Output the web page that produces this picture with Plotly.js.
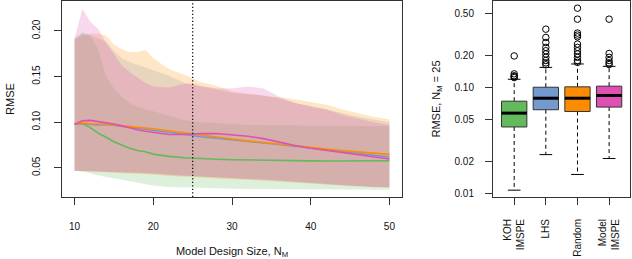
<!DOCTYPE html>
<html>
<head>
<meta charset="utf-8">
<script src="https://cdn.plot.ly/plotly-3.0.1.min.js"></script>
<style>html,body{margin:0;padding:0;background:#fff}#plot{width:632px;height:259px}</style>
</head>
<body>
<div id="plot"></div>
<script>
// ---------- Left panel data: RMSE vs model design size ----------
const designSizes = [10,11,12,13,14,15,16,17,18,19,20,22,24,25,26,28,30,32,34,36,38,40,42,44,46,48,50];

const kohMean   = [0.0978,0.0985,0.094,0.088,0.0835,0.0785,0.075,0.0715,0.069,0.0675,0.065,0.0625,0.061,0.0604,0.060,0.0594,0.0589,0.0585,0.0582,0.058,0.0578,0.0576,0.0575,0.0575,0.0576,0.0577,0.0578];
const kohUpper  = [0.1917,0.1986,0.195,0.180,0.150,0.137,0.128,0.121,0.117,0.114,0.112,0.107,0.102,0.101,0.100,0.099,0.098,0.097,0.097,0.0965,0.096,0.096,0.096,0.096,0.0958,0.0957,0.0956];
const kohLower  = [0.0468,0.046,0.044,0.0415,0.040,0.0385,0.037,0.0355,0.034,0.032,0.0305,0.029,0.028,0.0278,0.0276,0.0273,0.027,0.0268,0.0266,0.0265,0.0265,0.0264,0.0263,0.0262,0.0261,0.026,0.026];

const lhsMean   = [0.0978,0.0985,0.0975,0.097,0.0975,0.0965,0.0955,0.0945,0.0935,0.0925,0.0915,0.089,0.0865,0.0852,0.084,0.0825,0.081,0.079,0.0772,0.0755,0.0735,0.0715,0.0697,0.068,0.066,0.064,0.0618];
const lhsUpper  = [0.191,0.197,0.195,0.192,0.188,0.178,0.170,0.166,0.163,0.160,0.157,0.151,0.143,0.141,0.139,0.136,0.132,0.131,0.129,0.126,0.121,0.118,0.114,0.110,0.106,0.103,0.100];
const lhsLower  = [0.0468,0.0465,0.046,0.0458,0.0455,0.0452,0.0448,0.0445,0.0443,0.044,0.0437,0.042,0.0412,0.0408,0.0402,0.0392,0.0383,0.0376,0.037,0.0362,0.0348,0.0335,0.0322,0.031,0.0298,0.029,0.0285];

const randMean  = [0.0978,0.0992,0.098,0.098,0.098,0.097,0.096,0.095,0.094,0.0935,0.0928,0.0905,0.088,0.087,0.0855,0.0835,0.0815,0.0795,0.0777,0.076,0.0738,0.072,0.0705,0.069,0.0675,0.066,0.0647];
const randUpper = [0.191,0.195,0.197,0.197,0.195,0.185,0.180,0.177,0.177,0.179,0.170,0.158,0.152,0.148,0.144,0.140,0.134,0.131,0.129,0.127,0.125,0.122,0.119,0.114,0.110,0.106,0.103];
const randLower = [0.0468,0.0462,0.0455,0.045,0.0445,0.044,0.0438,0.0435,0.043,0.0427,0.0423,0.041,0.040,0.0395,0.039,0.0383,0.0375,0.0368,0.036,0.0352,0.034,0.0328,0.0315,0.0305,0.0295,0.0288,0.0283];

const modelMean  = [0.0978,0.1015,0.102,0.1008,0.0995,0.098,0.096,0.0935,0.0918,0.090,0.0888,0.0865,0.0865,0.087,0.0875,0.0876,0.0862,0.0845,0.082,0.078,0.0745,0.0715,0.069,0.0668,0.0645,0.062,0.0596];
const modelUpper = [0.192,0.224,0.210,0.202,0.187,0.175,0.162,0.155,0.149,0.143,0.139,0.138,0.142,0.142,0.140,0.137,0.137,0.139,0.137,0.128,0.121,0.117,0.114,0.108,0.104,0.100,0.097];
const modelLower = [0.0468,0.0466,0.0462,0.046,0.0458,0.0455,0.0452,0.045,0.0447,0.0445,0.044,0.0425,0.0415,0.041,0.0405,0.0395,0.0386,0.0378,0.0372,0.0365,0.035,0.0337,0.0325,0.0312,0.030,0.0292,0.0287];

const markedSize = 25;

// ---------- Right panel data: RMSE at N_M = 25 ----------
const methods      = ['KOH<br>IMSPE','LHS','Random','Model<br>IMSPE'];
const whiskerLow   = [0.0108,0.0234,0.0152,0.0215];
const boxQ1        = [0.0427,0.0621,0.0598,0.0658];
const boxMedian    = [0.0577,0.0798,0.0798,0.0847];
const boxQ3        = [0.0748,0.1013,0.1022,0.1037];
const whiskerHigh  = [0.1205,0.156,0.168,0.1596];
const outliersKOH    = [0.200,0.1355,0.1300,0.1277,0.125];
const outliersLHS    = [0.358,0.299,0.268,0.241,0.224,0.209,0.194,0.181,0.172,0.165];
const outliersRandom = [0.565,0.445,0.329,0.315,0.303,0.259,0.241,0.224,0.209,0.194,0.181,0.174];
const outliersModel  = [0.445,0.211,0.194,0.181,0.172,0.166];

// ---------- styling ----------
const colors = ['#62BA5C','#7399CF','#FF8C00','#E04FB4'];
function rgba(hex,a){const n=parseInt(hex.slice(1),16);return `rgba(${n>>16},${(n>>8)&255},${n&255},${a})`;}

const traces = [];
const bands = [[kohUpper,kohLower],[lhsUpper,lhsLower],[randUpper,randLower],[modelUpper,modelLower]];
bands.forEach((b,i)=>{
  traces.push({type:'scatter',mode:'lines',xaxis:'x',yaxis:'y',
    x: designSizes.concat(designSizes.slice().reverse()),
    y: b[0].concat(b[1].slice().reverse()),
    fill:'toself', fillcolor: rgba(colors[i],0.22), line:{width:0}, hoverinfo:'skip'});
});
const means = [kohMean,lhsMean,randMean,modelMean];
[0,1,2,3].forEach(i=>{
  traces.push({type:'scatter',mode:'lines',xaxis:'x',yaxis:'y',x:designSizes,y:means[i],
    line:{color:colors[i],width:1.6}});
});

const outliers = [outliersKOH,outliersLHS,outliersRandom,outliersModel];
const bw = 0.4, cw = 0.2;
methods.forEach((m,i)=>{
  const p = i+1;
  traces.push({type:'scatter',mode:'lines',xaxis:'x2',yaxis:'y2',
    x:[p,p,null,p,p], y:[boxQ3[i],whiskerHigh[i],null,boxQ1[i],whiskerLow[i]],
    line:{color:'#000',width:1,dash:'4px,3px'}});
  traces.push({type:'scatter',mode:'lines',xaxis:'x2',yaxis:'y2',
    x:[p-cw,p+cw,null,p-cw,p+cw], y:[whiskerHigh[i],whiskerHigh[i],null,whiskerLow[i],whiskerLow[i]],
    line:{color:'#000',width:1}});
  traces.push({type:'scatter',mode:'lines',xaxis:'x2',yaxis:'y2',
    x:[p-bw,p+bw,p+bw,p-bw,p-bw], y:[boxQ1[i],boxQ1[i],boxQ3[i],boxQ3[i],boxQ1[i]],
    fill:'toself', fillcolor:colors[i], line:{color:'#333',width:1}});
  traces.push({type:'scatter',mode:'lines',xaxis:'x2',yaxis:'y2',
    x:[p-bw,p+bw], y:[boxMedian[i],boxMedian[i]], line:{color:'#000',width:3}});
  traces.push({type:'scatter',mode:'markers',xaxis:'x2',yaxis:'y2',
    x:outliers[i].map(()=>p), y:outliers[i],
    marker:{symbol:'circle-open',size:6.5,color:'#000',line:{width:1}}});
});

const W=632;
const tickFont = {family:'Liberation Sans, Arial, sans-serif', size:10, color:'#111'};
const axBase = {showline:true, mirror:true, linecolor:'#333', linewidth:1, ticks:'outside', ticklen:7,
  tickcolor:'#333', showgrid:false, zeroline:false, tickfont:tickFont, fixedrange:true};

const layout = {
  width:632, height:259, margin:{l:0,r:0,t:1,b:62}, showlegend:false,
  paper_bgcolor:'#fff', plot_bgcolor:'#fff',
  font:{family:'Liberation Sans, Arial, sans-serif', size:10, color:'#111'},
  xaxis: Object.assign({}, axBase, {domain:[62/W,402/W], range:[8.4,51.6], tickvals:[10,20,30,40,50],
    ticklabelstandoff:13,
    title:{text:'Model Design Size, N<sub>M</sub>', font:{size:11}, standoff:16}}),
  yaxis: Object.assign({}, axBase, {domain:[0,1], range:[0.018,0.2328], tickvals:[0.05,0.10,0.15,0.20],
    ticktext:['0.05','0.10','0.15','0.20'], tickangle:-90, ticklabelstandoff:10,
    title:{text:'RMSE', font:{size:11}, standoff:14}}),
  xaxis2: Object.assign({}, axBase, {domain:[493/W,630/W], range:[0.33,4.66], tickvals:[1,2,3,4],
    ticktext:methods, tickangle:-90, anchor:'y2', ticklabelstandoff:10}),
  yaxis2: Object.assign({}, axBase, {domain:[0,1], type:'log', range:[-2.031,-0.18], anchor:'x2',
    tickvals:[0.01,0.02,0.05,0.1,0.2,0.5], ticktext:['0.01','0.02','0.05','0.10','0.20','0.50'],
    ticklabelstandoff:9,
    title:{text:'RMSE, N<sub>M</sub> = 25', font:{size:11}, standoff:11}}),
  shapes:[{type:'line', xref:'x', yref:'y domain', x0:markedSize, x1:markedSize, y0:0, y1:1,
    line:{color:'#111', width:1.3, dash:'1.3px,2.2px'}}]
};

Plotly.newPlot('plot', traces, layout, {staticPlot:true, displayModeBar:false});
</script>
</body>
</html>
